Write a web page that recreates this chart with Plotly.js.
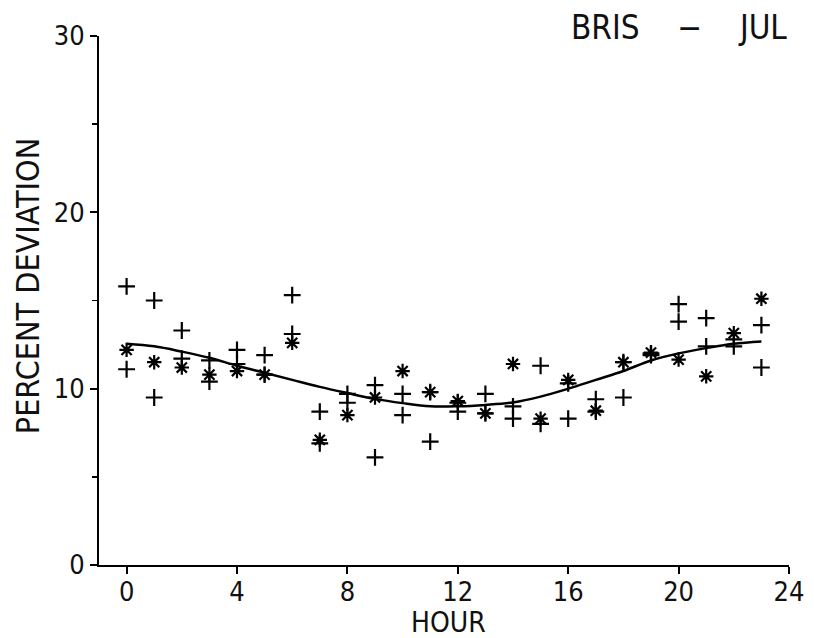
<!DOCTYPE html>
<html>
<head>
<meta charset="utf-8">
<script src="https://cdn.plot.ly/plotly-3.0.1.min.js"></script>
<style>html,body{margin:0;padding:0;background:#fff;}#chart{width:814px;height:638px;}</style>
</head>
<body>
<div id="chart"></div>
<script>
const hours = [0,1,2,3,4,5,6,7,8,9,10,11,12,13,14,15,16,17,18,19,20,21,22,23];
const plusUpper = [15.8,15.0,13.3,11.6,12.2,11.9,15.3,8.7,9.7,10.2,9.7,9.8,9.2,9.7,9.0,11.3,10.3,9.4,11.5,12.0,14.8,14.0,12.8,13.6];
const plusLower = [11.1,9.5,11.7,10.4,11.4,10.8,13.1,6.9,9.2,6.1,8.5,7.0,8.7,8.6,8.3,8.0,8.3,8.7,9.5,11.9,13.8,12.4,12.4,11.2];
const starVals  = [12.2,11.5,11.2,10.8,11.0,10.8,12.6,7.1,8.5,9.5,11.0,9.8,9.3,8.6,11.4,8.3,10.5,8.75,11.5,12.05,11.65,10.7,13.15,15.1];
const fitCurve  = [12.55,12.4,12.1,11.75,11.3,10.9,10.5,10.1,9.75,9.42,9.18,9.0,9.0,9.08,9.22,9.55,10.0,10.5,11.0,11.6,12.0,12.3,12.55,12.68];
const xTicks = [0,4,8,12,16,20,24];
const yTicks = [0,10,20,30];
const titleText = "BRIS\u00A0\u00A0\u00A0\u00A0\u2212\u00A0\u00A0\u00A0\u00A0JUL";
const xLabel = "HOUR";
const yLabel = "PERCENT DEVIATION";

const FONT = "Liberation Sans Narrow, DejaVu Sans Condensed, Liberation Sans, sans-serif";
const plusMarker = {symbol:'cross-thin-open', size:12, color:'#000', line:{width:2.2, color:'#000'}};
const starMarker = {symbol:'asterisk-open', size:12, color:'#000', line:{width:2.2, color:'#000'}};

const traces = [
  {x:hours, y:fitCurve, mode:'lines', line:{color:'#000', width:2.5, shape:'spline'}, hoverinfo:'skip'},
  {x:hours, y:plusUpper, mode:'markers', marker:plusMarker},
  {x:hours, y:plusLower, mode:'markers', marker:plusMarker},
  {x:hours, y:starVals, mode:'markers', marker:starMarker}
];

const layout = {
  width:814, height:638,
  margin:{l:99, r:25, t:36, b:73},
  paper_bgcolor:'#fff', plot_bgcolor:'#fff',
  showlegend:false,
  font:{family:FONT, color:'#000', size:27},
  xaxis:{
    range:[-1.0,24], tickvals:xTicks, ticktext:xTicks.map(String),
    showline:true, linecolor:'#000', linewidth:2,
    ticks:'outside', ticklen:7, tickwidth:2, tickcolor:'#000',
    showgrid:false, zeroline:false,
    tickfont:{family:FONT, size:27, color:'#111'},
    ticklabelstandoff:-5
  },
  yaxis:{
    range:[0,30], tickvals:yTicks, ticktext:yTicks.map(String),
    showline:true, linecolor:'#000', linewidth:2,
    ticks:'outside', ticklen:7, tickwidth:2, tickcolor:'#000',
    minor:{dtick:5, tick0:0, ticks:'outside', ticklen:5, tickwidth:1.5, tickcolor:'#000', showgrid:false},
    showgrid:false, zeroline:false,
    tickfont:{family:FONT, size:27, color:'#111'}
  },
  annotations:[
    {text:titleText, xref:'paper', yref:'paper', x:1, y:1, xanchor:'right', yanchor:'middle', yshift:9, showarrow:false, font:{family:FONT, size:33, color:'#111'}},
    {text:xLabel, xref:'paper', yref:'paper', x:0.507, y:0, xanchor:'center', yanchor:'middle', yshift:-57, showarrow:false, font:{family:FONT, size:28, color:'#111'}},
    {text:yLabel, xref:'paper', yref:'paper', x:0, y:0.527, xanchor:'center', yanchor:'middle', xshift:-71, textangle:-90, showarrow:false, font:{family:FONT, size:32, color:'#111'}}
  ]
};

Plotly.newPlot('chart', traces, layout, {displayModeBar:false, staticPlot:true});
</script>
</body>
</html>
